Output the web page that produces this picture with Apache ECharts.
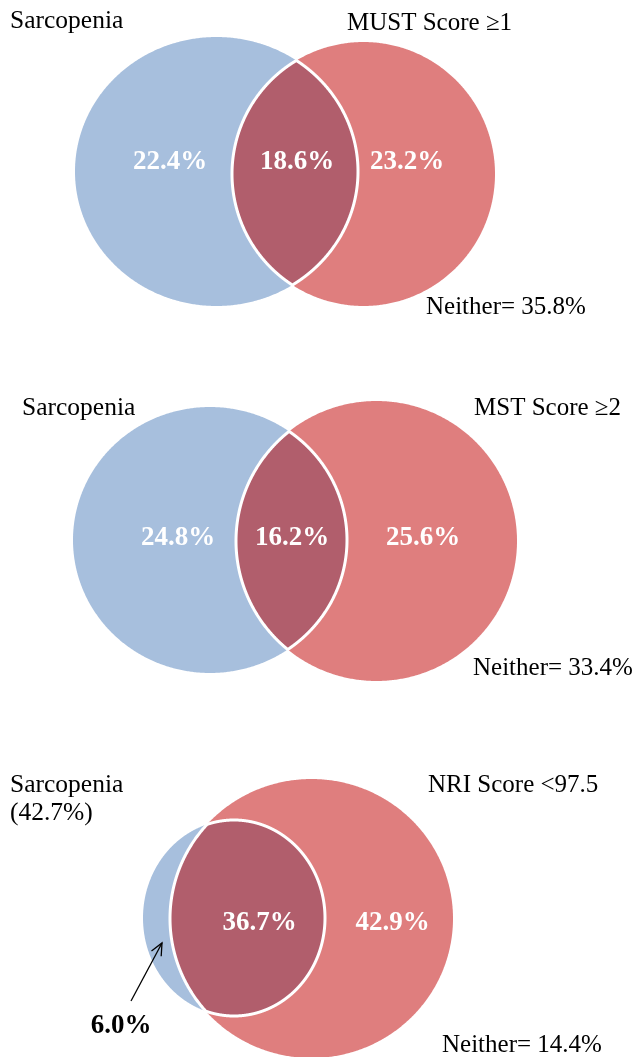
<!DOCTYPE html>
<html><head><meta charset="utf-8">
<script src="https://cdn.jsdelivr.net/npm/echarts@6/dist/echarts.min.js"></script>
<style>html,body{margin:0;padding:0;background:#fff}#c{width:635px;height:1057px}</style>
</head><body><div id="c"></div>
<script>
// ---- data ----
const setA = ['Sarcopenia', 'Sarcopenia', 'Sarcopenia'];
const setATotal = [null, null, 42.7];
const setB = ['MUST Score \u22651', 'MST Score \u22652', 'NRI Score <97.5'];
const onlyA = [22.4, 24.8, 6.0];
const both = [18.6, 16.2, 36.7];
const onlyB = [23.2, 25.6, 42.9];
const neither = [35.8, 33.4, 14.4];

// ---- layout (axis units = pixels) ----
const layout = [
  { A: [216.5, 171.5, 141.5, 134.5], B: [363.5, 174, 131.5, 132],
    labA: [10, 21], labB: [347, 23], nei: [426, 307],
    tA: [170, 162], tAB: [297, 162], tB: [407, 162] },
  { A: [210, 540, 137, 133], B: [376.5, 541, 140.5, 140],
    labA: [22, 408], labB: [474, 408], nei: [473, 668],
    tA: [178, 538], tAB: [292, 538], tB: [423, 538] },
  { A: [234, 918, 91, 98], B: [311.5, 918.5, 141.5, 139.5],
    labA: [10, 799], labB: [428, 785], nei: [442, 1045],
    tA: [121, 1026], tAB: [259.5, 923], tB: [392.5, 923],
    arrow: [[131, 1001], [162, 943]], outsideA: true }
];

const COL_A = '#a7bfdd', COL_B = '#df7e7e', COL_AB = '#b15e6c';
const SERIF = '"Liberation Serif","Times New Roman",serif';

function inside(e, x, y) { const dx = (x - e[0]) / e[2], dy = (y - e[1]) / e[3]; return dx * dx + dy * dy <= 1 + 1e-9; }
function ellipse(e, n) {
  const p = [];
  for (let i = 0; i < n; i++) { const t = 2 * Math.PI * i / n; p.push([e[0] + e[2] * Math.cos(t), e[1] + e[3] * Math.sin(t)]); }
  return p;
}
function lensPts(A, B, n) {
  const pts = [];
  ellipse(A, n).forEach(p => { if (inside(B, p[0], p[1])) pts.push(p); });
  ellipse(B, n).forEach(p => { if (inside(A, p[0], p[1])) pts.push(p); });
  let cx = 0, cy = 0; pts.forEach(p => { cx += p[0]; cy += p[1]; }); cx /= pts.length; cy /= pts.length;
  pts.sort((a, b) => Math.atan2(a[1] - cy, a[0] - cx) - Math.atan2(b[1] - cy, b[0] - cx));
  return pts;
}
const pct = v => v.toFixed(1) + '%';

function renderItem(params, api) {
  const i = params.dataIndex, L = layout[i];
  const c = p => api.coord(p);
  const kids = [];
  kids.push({ type: 'polygon', shape: { points: ellipse(L.A, 720).map(c) }, style: { fill: COL_A } });
  kids.push({ type: 'polygon', shape: { points: ellipse(L.B, 720).map(c) }, style: { fill: COL_B } });
  kids.push({ type: 'polygon', shape: { points: lensPts(L.A, L.B, 2880).map(c) },
    style: { fill: COL_AB, stroke: '#ffffff', lineWidth: 3, lineJoin: 'miter' } });
  const lab = (p, text, opt) => {
    const q = c(p);
    kids.push({ type: 'text', x: q[0], y: q[1], style: Object.assign({
      text: text, fontFamily: SERIF, fontSize: 25, fill: '#000', align: 'left', verticalAlign: 'middle' }, opt || {}) });
  };
  const aText = setATotal[i] != null ? setA[i] + '\n(' + setATotal[i].toFixed(1) + '%)' : setA[i];
  lab(L.labA, aText, { lineHeight: 28, fontSize: 25.5 });
  lab(L.labB, setB[i]);
  lab(L.nei, 'Neither= ' + pct(neither[i]), { fontSize: 25 });
  const big = { fontSize: 27, fontWeight: 'bold', fill: '#ffffff', align: 'center' };
  lab(L.tA, pct(onlyA[i]), L.outsideA ? Object.assign({}, big, { fill: '#000' }) : big);
  lab(L.tAB, pct(both[i]), big);
  lab(L.tB, pct(onlyB[i]), big);
  if (L.arrow) {
    const p0 = c(L.arrow[0]), p1 = c(L.arrow[1]);
    kids.push({ type: 'line', shape: { x1: p0[0], y1: p0[1], x2: p1[0], y2: p1[1] }, style: { stroke: '#000', lineWidth: 1.3 } });
    const dx = p1[0] - p0[0], dy = p1[1] - p0[1], len = Math.hypot(dx, dy), ux = dx / len, uy = dy / len;
    const h = 12, w = 5.5;
    kids.push({ type: 'polyline', shape: { points: [
      [p1[0] - ux * h - uy * w, p1[1] - uy * h + ux * w], [p1[0], p1[1]], [p1[0] - ux * h + uy * w, p1[1] - uy * h - ux * w]] },
      style: { stroke: '#000', lineWidth: 1.3, fill: null } });
  }
  return { type: 'group', children: kids };
}

const chart = echarts.init(document.getElementById('c'), null, { renderer: 'canvas' });
chart.setOption({
  animation: false,
  backgroundColor: '#ffffff',
  grid: { left: 0, right: 0, top: 0, bottom: 0 },
  xAxis: { type: 'value', min: 0, max: 635, show: false },
  yAxis: { type: 'value', min: 0, max: 1057, inverse: true, show: false },
  series: [{
    type: 'custom', silent: true, clip: false,
    data: setB.map((s, i) => [i, i]),
    renderItem: renderItem
  }]
});
</script></body></html>
